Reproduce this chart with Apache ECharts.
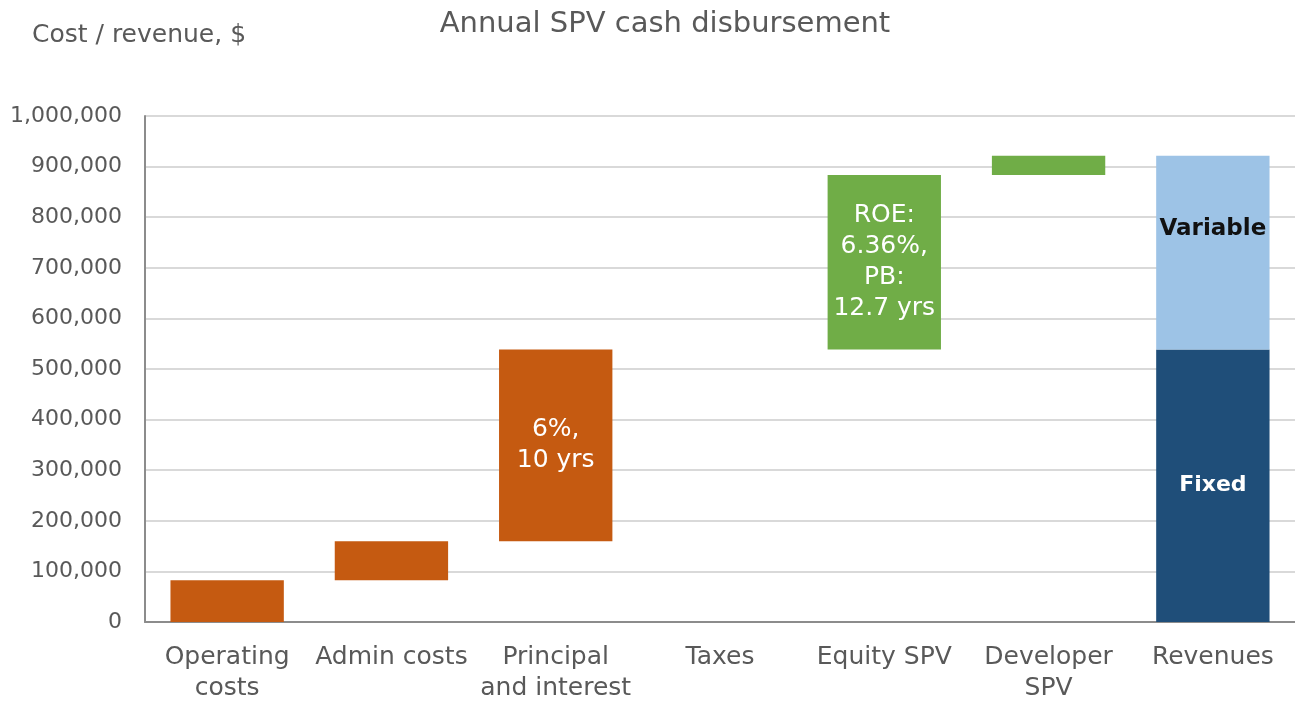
<!DOCTYPE html>
<html lang="en">
<head>
  <meta charset="UTF-8">
  <title>Annual SPV cash disbursement</title>
  <script src="https://cdn.jsdelivr.net/npm/echarts@6/dist/echarts.min.js"></script>
  <style>
    html, body { margin: 0; padding: 0; background: #fff; }
    #chart { width: 1295px; height: 704px; }
  </style>
</head>
<body>
  <div id="chart"></div>
  <script>
    // categories and waterfall values
    const categories = ['Operating\ncosts', 'Admin costs', 'Principal\nand interest', 'Taxes', 'Equity SPV', 'Developer\nSPV', 'Revenues'];
    const baseValues = [0, 82500, 159500, 538500, 538500, 883500, 0];
    const stepValues = [82500, 77000, 379000, 0, 345000, 38000, 0];
    const stepColors = ['#C55A11', '#C55A11', '#C55A11', '#C55A11', '#70AD47', '#70AD47', '#C55A11'];
    const stepLabels = ['', '', '6%,\n10 yrs', '', 'ROE:\n6.36%,\nPB:\n12.7 yrs', '', ''];
    const fixedValues = [0, 0, 0, 0, 0, 0, 538500];
    const variableValues = [0, 0, 0, 0, 0, 0, 383000];
    const yTicks = { min: 0, max: 1000000, interval: 100000 };

    const font = '"DejaVu Sans", sans-serif';
    const chart = echarts.init(document.getElementById('chart'));

    chart.setOption({
      animation: false,
      textStyle: { fontFamily: font },
      title: {
        text: 'Annual SPV cash disbursement',
        left: 660, top: 5, textAlign: 'center',
        textStyle: { fontFamily: font, fontSize: 29, fontWeight: 'normal', color: '#595959' }
      },
      grid: { left: 145, right: 0, top: 116, bottom: 79 },
      xAxis: {
        type: 'category',
        data: categories,
        axisLine: { lineStyle: { color: '#8c8c8c', width: 2 } },
        axisTick: { show: false },
        axisLabel: { color: '#595959', fontSize: 25, lineHeight: 31, margin: 20, interval: 0 }
      },
      yAxis: {
        type: 'value',
        min: yTicks.min, max: yTicks.max, interval: yTicks.interval,
        name: 'Cost / revenue, $',
        nameLocation: 'end',
        nameGap: 0,
        nameTextStyle: { color: '#595959', fontSize: 25, align: 'left', padding: [0, 0, 68, -113] },
        axisLine: { show: true, lineStyle: { color: '#8c8c8c', width: 2 } },
        axisTick: { show: false },
        splitLine: { lineStyle: { color: '#d9d9d9', width: 2 } },
        axisLabel: {
          color: '#595959', fontSize: 22, margin: 23,
          formatter: v => v.toLocaleString('en-US')
        }
      },
      series: [
        {
          type: 'bar', stack: 'w', barWidth: '69%',
          itemStyle: { color: 'transparent' },
          data: baseValues
        },
        {
          type: 'bar', stack: 'w',
          data: stepValues.map((v, i) => ({
            value: v,
            itemStyle: { color: stepColors[i] },
            label: {
              show: stepLabels[i] !== '',
              formatter: stepLabels[i],
              position: 'inside',
              color: '#fff', fontSize: 25, lineHeight: 31
            }
          }))
        },
        {
          type: 'bar', stack: 'w',
          itemStyle: { color: '#1F4E79' },
          label: {
            show: true, position: 'inside',
            formatter: p => p.value ? 'Fixed' : '',
            color: '#fff', fontSize: 22, fontWeight: 'bold'
          },
          data: fixedValues
        },
        {
          type: 'bar', stack: 'w',
          itemStyle: { color: '#9DC3E6' },
          label: {
            show: true, position: ['50%', 73], align: 'center', verticalAlign: 'middle',
            formatter: p => p.value ? 'Variable' : '',
            color: '#111', fontSize: 23, fontWeight: 'bold'
          },
          data: variableValues
        }
      ]
    });
  </script>
</body>
</html>
